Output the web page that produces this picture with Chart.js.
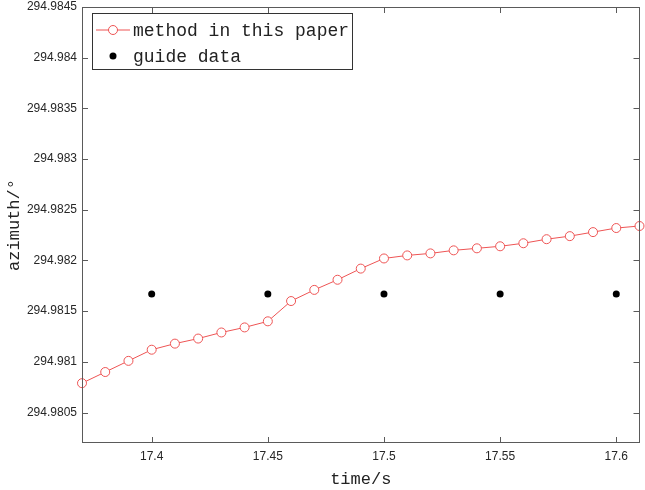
<!DOCTYPE html>
<html>
<head>
<meta charset="utf-8">
<script src="https://cdn.jsdelivr.net/npm/chart.js@4/dist/chart.umd.min.js"></script>
<style>
  html, body { margin: 0; padding: 0; background: #fff; }
  #wrap { width: 645px; height: 490px; position: relative; }
</style>
</head>
<body>
<div id="wrap"><canvas id="c" width="645" height="490"></canvas></div>
<script>
const methodTimes = [17.37, 17.38, 17.39, 17.40, 17.41, 17.42, 17.43, 17.44, 17.45, 17.46, 17.47, 17.48, 17.49,
                     17.50, 17.51, 17.52, 17.53, 17.54, 17.55, 17.56, 17.57, 17.58, 17.59, 17.60, 17.61];
const methodAzimuth = [294.98079, 294.98090, 294.98101, 294.98112, 294.98118, 294.98123, 294.98129, 294.98134,
                       294.98140, 294.98160, 294.98171, 294.98181, 294.98192, 294.98202, 294.98205, 294.98207,
                       294.98210, 294.98212, 294.98214, 294.98217, 294.98221, 294.98224, 294.98228, 294.98232,
                       294.98234];
const guideTimes = [17.40, 17.45, 17.50, 17.55, 17.60];
const guideAzimuth = [294.98167, 294.98167, 294.98167, 294.98167, 294.98167];

const xTickValues = [17.40, 17.45, 17.50, 17.55, 17.60];
const xTickLabels = ['17.4', '17.45', '17.5', '17.55', '17.6'];
const yTickValues = [294.9805, 294.9810, 294.9815, 294.9820, 294.9825, 294.9830, 294.9835, 294.9840, 294.9845];
const yTickLabels = ['294.9805', '294.981', '294.9815', '294.982', '294.9825', '294.983', '294.9835', '294.984', '294.9845'];

const seriesNames = ['method in this paper', 'guide data'];
const RED = 'rgb(238,84,84)';
const AXIS = '#5a5a5a';
const MONO = '"Liberation Mono", "DejaVu Sans Mono", monospace';

function labelFor(values, labels, v) {
  for (let i = 0; i < values.length; i++) if (Math.abs(values[i] - v) < 1e-9) return labels[i];
  return '';
}

const framePlugin = {
  id: 'frame',
  afterDatasetsDraw(chart) {
    const ctx = chart.ctx, a = chart.chartArea;
    const xs = chart.scales.x, ys = chart.scales.y;
    ctx.save();
    ctx.strokeStyle = AXIS;
    ctx.lineWidth = 1;
    ctx.strokeRect(Math.round(a.left) + 0.5, Math.round(a.top) + 0.5,
                   Math.round(a.right - a.left) - 1, Math.round(a.bottom - a.top) - 1);
    const L = 6;
    ctx.beginPath();
    xs.ticks.forEach(t => {
      const px = Math.round(xs.getPixelForValue(t.value)) + 0.5;
      ctx.moveTo(px, a.bottom); ctx.lineTo(px, a.bottom - L);
      ctx.moveTo(px, a.top); ctx.lineTo(px, a.top + L);
    });
    ys.ticks.forEach(t => {
      const py = Math.round(ys.getPixelForValue(t.value)) + 0.5;
      ctx.moveTo(a.left, py); ctx.lineTo(a.left + L, py);
      ctx.moveTo(a.right, py); ctx.lineTo(a.right - L, py);
    });
    ctx.stroke();

    // legend box
    const bx = 92.5, by = 13.5, bw = 260, bh = 56;
    ctx.fillStyle = '#fff';
    ctx.fillRect(bx, by, bw, bh);
    ctx.strokeStyle = '#333';
    ctx.strokeRect(bx, by, bw, bh);
    ctx.font = '18px ' + MONO;
    ctx.textBaseline = 'middle';
    ctx.textAlign = 'left';
    const y1 = 30, y2 = 56;
    ctx.strokeStyle = RED;
    ctx.beginPath(); ctx.moveTo(96, y1); ctx.lineTo(130, y1); ctx.stroke();
    ctx.fillStyle = '#fff';
    ctx.beginPath(); ctx.arc(113, y1, 4.5, 0, Math.PI * 2); ctx.fill(); ctx.stroke();
    ctx.fillStyle = '#222';
    ctx.fillText(seriesNames[0], 133, y1 + 1);
    ctx.fillStyle = '#000';
    ctx.beginPath(); ctx.arc(113, y2, 3.5, 0, Math.PI * 2); ctx.fill();
    ctx.fillStyle = '#222';
    ctx.fillText(seriesNames[1], 133, y2 + 1);
    ctx.restore();
  }
};

new Chart(document.getElementById('c'), {
  type: 'scatter',
  data: {
    datasets: [
      {
        label: seriesNames[0],
        data: methodTimes.map((t, i) => ({ x: t, y: methodAzimuth[i] })),
        showLine: true,
        borderColor: RED,
        borderWidth: 1,
        pointRadius: 4.5,
        pointBorderWidth: 1,
        pointBackgroundColor: '#fff',
        pointBorderColor: RED,
        clip: 6
      },
      {
        label: seriesNames[1],
        data: guideTimes.map((t, i) => ({ x: t, y: guideAzimuth[i] })),
        showLine: false,
        pointRadius: 3.5,
        pointBackgroundColor: '#000',
        pointBorderColor: '#000',
        pointBorderWidth: 0
      }
    ]
  },
  options: {
    responsive: false,
    animation: false,
    events: [],
    layout: { padding: { left: 0, right: 3, top: 7, bottom: 0 } },
    plugins: { legend: { display: false }, tooltip: { enabled: false } },
    scales: {
      x: {
        type: 'linear',
        min: 17.37,
        max: 17.61,
        afterBuildTicks: s => { s.ticks = xTickValues.map(v => ({ value: v })); },
        afterFit: s => { s.height = 47; s.paddingLeft = 0; s.paddingRight = 0; },
        grid: { display: false, drawTicks: false },
        border: { display: false },
        ticks: {
          color: '#262626',
          font: { family: 'Liberation Sans, Arial, sans-serif', size: 12 },
          padding: 6,
          maxRotation: 0,
          callback: v => labelFor(xTickValues, xTickLabels, v)
        },
        title: {
          display: true,
          text: 'time/s',
          color: '#222',
          font: { family: MONO, size: 17 },
          padding: { top: 0, bottom: 0 }
        }
      },
      y: {
        type: 'linear',
        min: 294.9802,
        max: 294.9845,
        afterBuildTicks: s => { s.ticks = yTickValues.map(v => ({ value: v })); },
        afterFit: s => { s.width = 82; s.paddingTop = 0; s.paddingBottom = 0; },
        grid: { display: false, drawTicks: false },
        border: { display: false },
        ticks: {
          color: '#262626',
          font: { family: 'Liberation Sans, Arial, sans-serif', size: 12 },
          padding: 5,
          callback: v => labelFor(yTickValues, yTickLabels, v)
        },
        title: {
          display: true,
          text: 'azimuth/°',
          color: '#222',
          font: { family: MONO, size: 17 },
          padding: { top: 4, bottom: 0 }
        }
      }
    }
  },
  plugins: [framePlugin]
});
</script>
</body>
</html>
